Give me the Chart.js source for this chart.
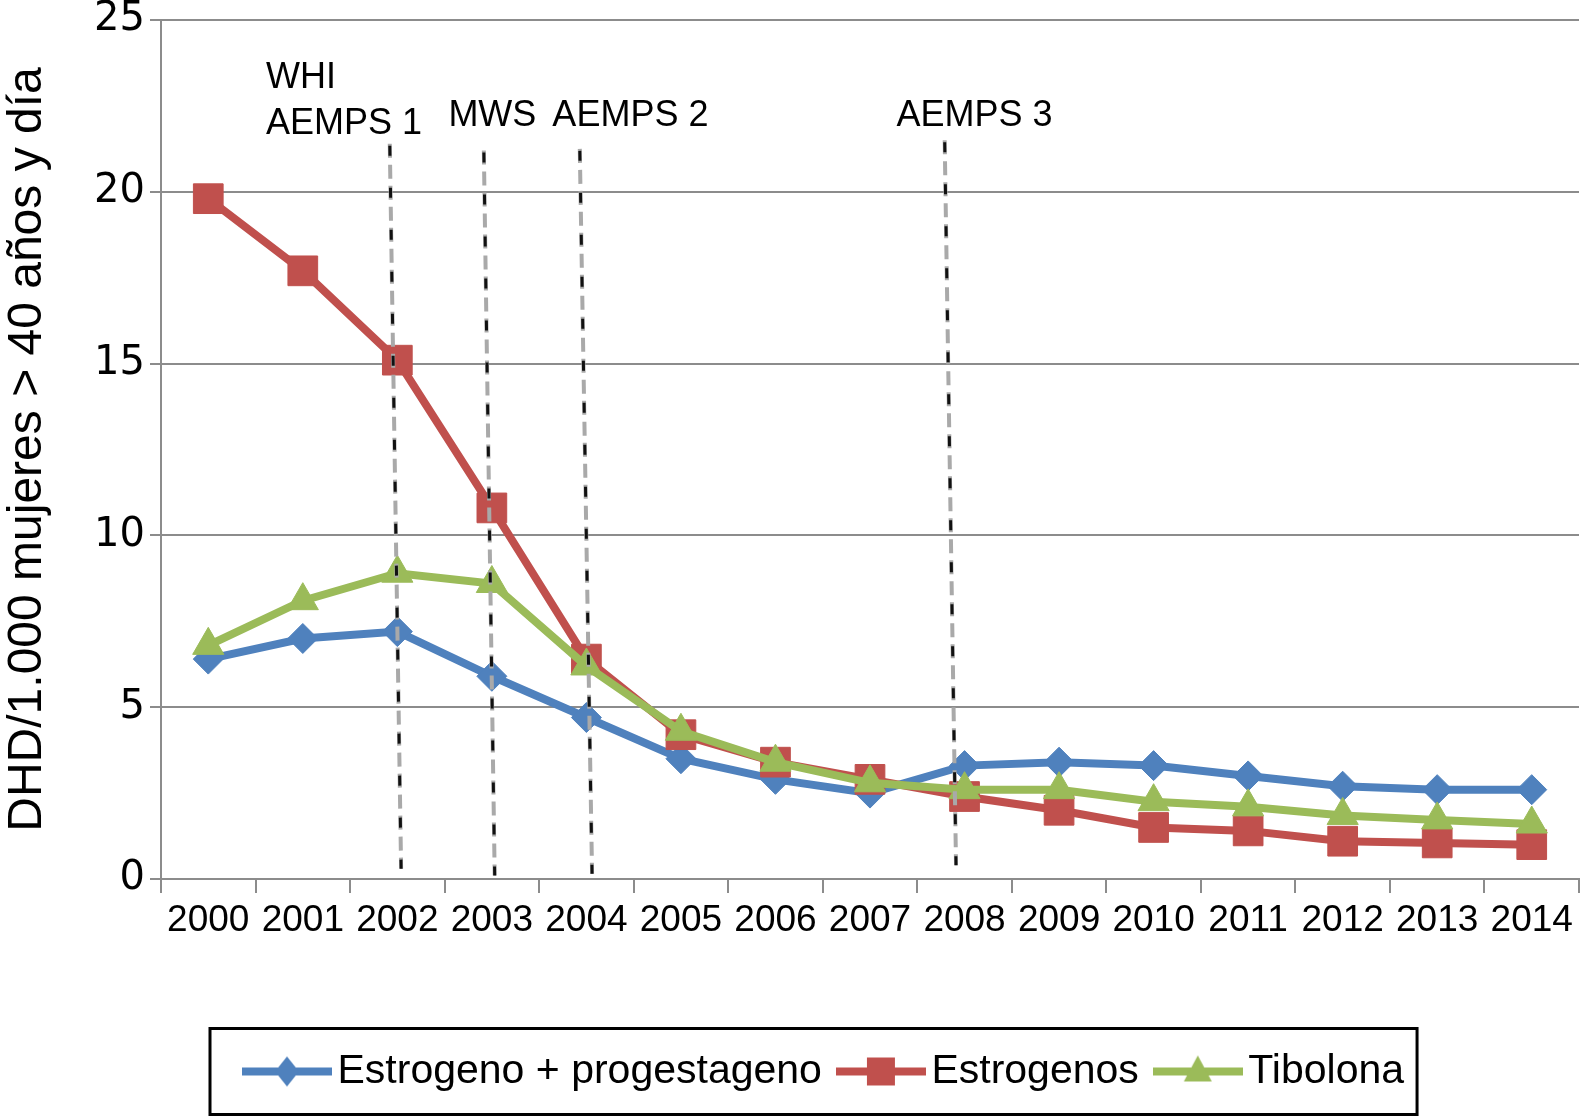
<!DOCTYPE html>
<html>
<head>
<meta charset="utf-8">
<script src="https://cdn.jsdelivr.net/npm/chart.js@4.4.1/dist/chart.umd.min.js"></script>
<style>
  html, body { margin: 0; padding: 0; background: #fff; overflow: hidden; }
  #wrap { width: 1580px; height: 1119px; position: relative; }
</style>
</head>
<body>
<div id="wrap"><canvas id="hrtChart"></canvas></div>
<script>
const years = ["2000", "2001", "2002", "2003", "2004", "2005", "2006", "2007",
               "2008", "2009", "2010", "2011", "2012", "2013", "2014"];
const estrogenoProgestageno = [6.4, 7.0, 7.2, 5.9, 4.7, 3.5, 2.9, 2.5, 3.3, 3.4, 3.3, 3.0, 2.7, 2.6, 2.6];
const estrogenos            = [19.8, 17.7, 15.1, 10.8, 6.4, 4.2, 3.4, 2.9, 2.4, 2.0, 1.5, 1.4, 1.1, 1.05, 1.0];
const tibolona              = [6.8, 8.1, 8.9, 8.6, 6.2, 4.3, 3.4, 2.8, 2.6, 2.6, 2.25, 2.1, 1.85, 1.72, 1.6];
const seriesNames = ["Estrogeno + progestageno", "Estrogenos", "Tibolona"];
const yMin = 0, yMax = 25, yStep = 5;

// regulatory events, x in category index units (0 = 2000)
const eventLabels  = [["WHI", "AEMPS 1"], ["MWS"], ["AEMPS 2"], ["AEMPS 3"]];
const eventTopX    = [1.92, 2.915, 3.93, 7.79];
const eventBottomX = [2.04, 3.03, 4.06, 7.91];
const eventTopY    = [21.4, 21.2, 21.25, 21.5];
const eventBottomY = [0.3, 0.1, 0.15, 0.4];

const FONT = '"Liberation Sans", Arial, Helvetica, sans-serif';
const colors = ["#4F81BD", "#C0504D", "#9BBB59"];
const shapes = ["rectRot", "rect", "triangle"];

function legendIcon(color, shape) {
  const c = document.createElement("canvas");
  c.width = 90; c.height = 36;
  const g = c.getContext("2d");
  const cx = 45, cy = 18;
  g.strokeStyle = color; g.fillStyle = color; g.lineWidth = 8;
  g.beginPath(); g.moveTo(0, cy); g.lineTo(90, cy); g.stroke();
  g.beginPath();
  if (shape === "rectRot") {
    g.moveTo(cx, cy - 15); g.lineTo(cx + 12, cy); g.lineTo(cx, cy + 15); g.lineTo(cx - 12, cy);
  } else if (shape === "rect") {
    g.rect(cx - 14, cy - 14, 28, 28);
  } else {
    g.moveTo(cx, cy - 16); g.lineTo(cx + 14, cy + 10); g.lineTo(cx - 14, cy + 10);
  }
  g.closePath(); g.fill();
  return c;
}
const legendIcons = colors.map((c, i) => legendIcon(c, shapes[i]));

const eventLines = {
  id: "eventLines",
  afterDatasetsDraw(chart) {
    const { ctx, scales: { x, y } } = chart;
    ctx.save();
    eventLabels.forEach((lines, i) => {
      const x1 = x.getPixelForValue(eventTopX[i]), y1 = y.getPixelForValue(eventTopY[i]);
      const x2 = x.getPixelForValue(eventBottomX[i]), y2 = y.getPixelForValue(eventBottomY[i]);
      ctx.beginPath(); ctx.moveTo(x1, y1); ctx.lineTo(x2, y2);
      ctx.setLineDash([14, 7]); ctx.lineDashOffset = 0; ctx.lineWidth = 4; ctx.strokeStyle = "#a9a9a9"; ctx.stroke();
      ctx.setLineDash([10, 32]); ctx.lineDashOffset = -2; ctx.lineWidth = 3; ctx.strokeStyle = "#111"; ctx.stroke();
    });
    ctx.setLineDash([]);
    ctx.font = "36px " + FONT;
    ctx.fillStyle = "#000";
    ctx.textBaseline = "middle";
    ctx.textAlign = "left";
    // label anchors: x in category units, y of the last line in data units
    const labelX = [0.61, 2.54, 3.64, 7.28];
    const labelY = [21.98, 22.2, 22.2, 22.2];
    eventLabels.forEach((lines, i) => {
      const px = x.getPixelForValue(labelX[i]);
      const py = y.getPixelForValue(labelY[i]);
      lines.forEach((t, k) => ctx.fillText(t, px, py - (lines.length - 1 - k) * 46));
    });
    ctx.restore();
  }
};

const legendFrame = {
  id: "legendFrame",
  afterLayout(chart) {
    const lg = chart.legend;
    const pad = lg.options.labels.padding;
    const x0 = (lg.left + pad + lg.right - lg.lineWidths[0]) / 2;
    const shift = 257 - x0;
    lg.left += shift; lg.right += shift;
  },
  afterDraw(chart) {
    const lg = chart.legend;
    const pad = lg.options.labels.padding;
    const x0 = (lg.left + pad + lg.right - lg.lineWidths[0]) / 2;
    const x1 = x0 + lg.lineWidths[0] - pad;
    const cy = lg.top + pad + 20.5;
    const { ctx } = chart;
    ctx.save();
    ctx.lineWidth = 3;
    ctx.strokeStyle = "#000";
    ctx.strokeRect(x0 - 47, cy - 43, (x1 + 13) - (x0 - 47), 86);
    ctx.restore();
  }
};

function makeDataset(i, values, order, radius) {
  return {
    label: seriesNames[i],
    data: values,
    borderColor: colors[i],
    backgroundColor: colors[i],
    borderWidth: 8,
    pointStyle: shapes[i],
    pointRadius: radius,
    pointBorderWidth: 1,
    pointBackgroundColor: colors[i],
    pointBorderColor: colors[i],
    tension: 0,
    order: order
  };
}

new Chart(document.getElementById("hrtChart"), {
  type: "line",
  data: {
    labels: years,
    datasets: [
      makeDataset(0, estrogenoProgestageno, 2, 15),
      makeDataset(1, estrogenos, 1, 21),
      makeDataset(2, tibolona, 0, 18)
    ]
  },
  options: {
    responsive: true,
    maintainAspectRatio: false,
    animation: false,
    devicePixelRatio: 1,
    layout: { autoPadding: false, padding: { top: 20, right: 1, bottom: 17, left: 0 } },
    plugins: {
      tooltip: { enabled: false },
      legend: {
        position: "bottom",
        labels: {
          usePointStyle: true,
          pointStyleWidth: 60,
          padding: 29,
          color: "#000",
          font: { family: FONT, size: 41 },
          sort: (a, b) => a.datasetIndex - b.datasetIndex,
          generateLabels(chart) {
            const items = Chart.defaults.plugins.legend.labels.generateLabels(chart);
            items.forEach(it => { it.pointStyle = legendIcons[it.datasetIndex]; });
            return items;
          }
        }
      }
    },
    scales: {
      x: {
        offset: true,
        grid: { drawOnChartArea: false, drawTicks: true, tickLength: 14, color: "#8c8c8c", lineWidth: 2, offset: true },
        border: { display: true, color: "#8c8c8c", width: 2 },
        ticks: { color: "#000", font: { family: FONT, size: 37 }, padding: 6, maxRotation: 0, autoSkip: false },
        afterFit(scale) { scale.height = 143; scale.paddingLeft = 0; scale.paddingRight = 0; }
      },
      y: {
        min: yMin,
        max: yMax,
        ticks: { stepSize: yStep, color: "#000", font: { family: '"DejaVu Sans", sans-serif', size: 40 }, padding: 5 },
        grid: { color: "#8c8c8c", lineWidth: 2, tickLength: 11 },
        border: { display: true, color: "#8c8c8c", width: 2 },
        title: {
          display: true,
          text: "DHD/1.000 mujeres > 40 años y día",
          color: "#000",
          font: { family: FONT, size: 48, lineHeight: 1.15 },
          padding: { top: 0, bottom: 0 }
        },
        afterFit(scale) { scale.width = 161; scale.paddingTop = 0; scale.paddingBottom = 0; }
      }
    }
  },
  plugins: [eventLines, legendFrame]
});
</script>
</body>
</html>
